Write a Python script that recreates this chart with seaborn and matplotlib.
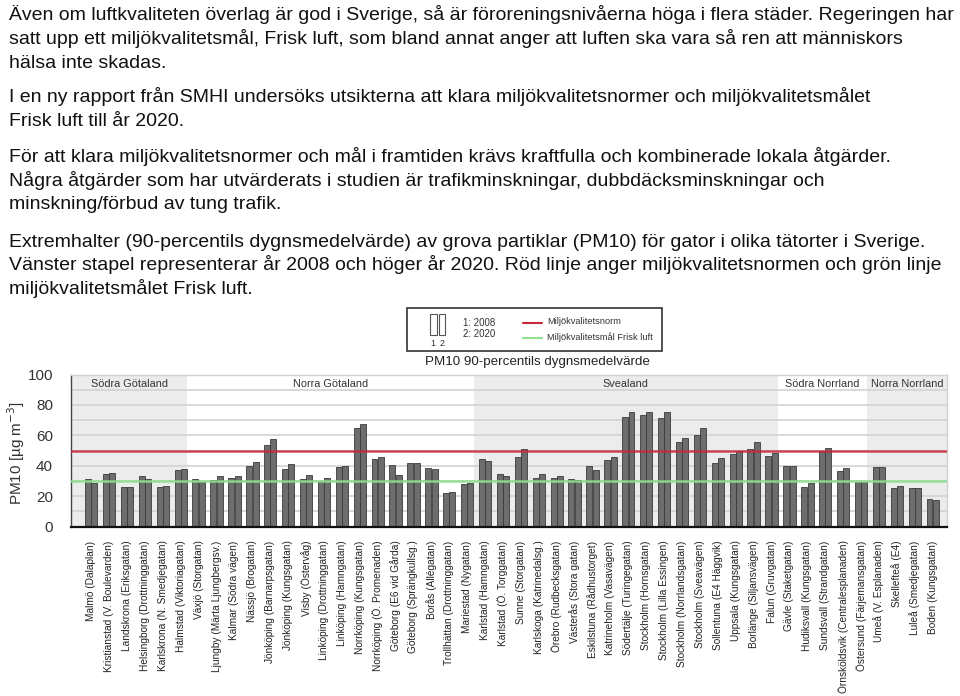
import matplotlib
matplotlib.use("Agg")
import matplotlib.pyplot as plt
from matplotlib.patches import Rectangle
from matplotlib.lines import Line2D
import seaborn as sns
import pandas as pd

# ---------------- data ----------------
cities = [
    "Malmö (Dalaplan)", "Kristianstad (V. Boulevarden)", "Landskrona (Eriksgatan)",
    "Helsingborg (Drottninggatan)", "Karlskrona (N. Smedjegatan)", "Halmstad (Viktoriagatan)",
    "Växjö (Storgatan)", "Ljungby (Märta Ljungbergsv.)", "Kalmar (Södra vägen)",
    "Nässjö (Brogatan)", "Jönköping (Barnarpsgatan)", "Jönköping (Kungsgatan)",
    "Visby (Östervåg)", "Linköping (Drottninggatan)", "Linköping (Hamngatan)",
    "Norrköping (Kungsgatan)", "Norrköping (Ö. Promenaden)", "Göteborg (E6 vid Gårda)",
    "Göteborg (Sprängkullsg.)", "Borås (Allégatan)", "Trollhättan (Drottninggatan)",
    "Mariestad (Nygatan)", "Karlstad (Hamngatan)", "Karlstad (Ö. Torggatan)",
    "Sunne (Storgatan)", "Karlskoga (Katrinedalsg.)", "Örebro (Rudbecksgatan)",
    "Västerås (Stora gatan)", "Eskilstuna (Rådhustorget)", "Katrineholm (Vasavägen)",
    "Södertälje (Turingegatan)", "Stockholm (Hornsgatan)", "Stockholm (Lilla Essingen)",
    "Stockholm (Norrlandsgatan)", "Stockholm (Sveavägen)", "Sollentuna (E4 Häggvik)",
    "Uppsala (Kungsgatan)", "Borlänge (Siljansvägen)", "Falun (Gruvgatan)",
    "Gävle (Staketgatan)", "Hudiksvall (Kungsgatan)", "Sundsvall (Strandgatan)",
    "Örnsköldsvik (Centralesplanaden)", "Östersund (Färjemansgatan)", "Umeå (V. Esplanaden)",
    "Skellefteå (E4)", "Luleå (Smedjegatan)", "Boden (Kungsgatan)",
]
pm10_2008 = [31.1, 34.6, 26.3, 33.5, 26.3, 37.2, 31.5, 30.6, 32.2, 39.8, 53.6, 37.9,
             31.1, 30.2, 39.0, 64.6, 44.2, 40.7, 42.0, 38.5, 21.9, 28.0, 44.2, 34.8,
             45.5, 32.2, 32.2, 31.3, 39.8, 43.5, 72.4, 73.7, 71.3, 55.8, 60.4, 42.0,
             47.5, 51.2, 46.6, 39.6, 26.3, 49.9, 36.8, 29.1, 39.4, 25.2, 25.2, 18.2]
pm10_2020 = [28.4, 35.0, 25.8, 31.1, 26.7, 37.9, 29.5, 33.5, 33.5, 42.5, 57.3, 40.9,
             34.1, 31.7, 39.8, 67.2, 46.0, 34.1, 42.0, 38.1, 22.8, 28.9, 42.9, 33.5,
             51.2, 34.8, 33.3, 30.9, 37.2, 46.0, 75.3, 75.3, 75.3, 58.2, 65.0, 45.1,
             49.9, 55.4, 48.1, 39.6, 28.7, 51.4, 38.3, 29.1, 39.0, 26.5, 25.2, 17.5]
years = ["2008", "2020"]
regions = ["Södra Götaland", "Norra Götaland", "Svealand", "Södra Norrland", "Norra Norrland"]
region_counts = [6, 16, 17, 5, 4]
norm_value = 50      # Miljökvalitetsnorm
goal_value = 30      # Miljökvalitetsmål Frisk luft

intro_lines = [
    "Även om luftkvaliteten överlag är god i Sverige, så är föroreningsnivåerna höga i flera städer. Regeringen har",
    "satt upp ett miljökvalitetsmål, Frisk luft, som bland annat anger att luften ska vara så ren att människors",
    "hälsa inte skadas.",
    "I en ny rapport från SMHI undersöks utsikterna att klara miljökvalitetsnormer och miljökvalitetsmålet",
    "Frisk luft till år 2020.",
    "För att klara miljökvalitetsnormer och mål i framtiden krävs kraftfulla och kombinerade lokala åtgärder.",
    "Några åtgärder som har utvärderats i studien är trafikminskningar, dubbdäcksminskningar och",
    "minskning/förbud av tung trafik.",
    "Extremhalter (90-percentils dygnsmedelvärde) av grova partiklar (PM10) för gator i olika tätorter i Sverige.",
    "Vänster stapel representerar år 2008 och höger år 2020. Röd linje anger miljökvalitetsnormen och grön linje",
    "miljökvalitetsmålet Frisk luft.",
]
intro_baselines = [20, 44, 67.5, 102, 125.5, 162, 185.5, 209, 247, 270.5, 294]

# ---------------- figure ----------------
sns.set_style("white")
plt.rcParams["font.family"] = ["Liberation Sans", "DejaVu Sans"]

W, H = 960, 696
fig = plt.figure(figsize=(W / 100, H / 100), dpi=100)


def fx(px):
    return px / W


def fy(py):
    return 1 - py / H


for line, yb in zip(intro_lines, intro_baselines):
    fig.text(fx(9), fy(yb), line, fontsize=14.0, va="baseline", ha="left", color="#111111")

ax_left, ax_right, ax_top, ax_bottom = 71, 947, 374.5, 526.7
ax = fig.add_axes([fx(ax_left), fy(ax_bottom), fx(ax_right - ax_left), (ax_bottom - ax_top) / H])

df = pd.DataFrame({
    "city": cities * 2,
    "value": pm10_2008 + pm10_2020,
    "year": [years[0]] * len(cities) + [years[1]] * len(cities),
})

sns.barplot(data=df, x="city", y="value", hue="year", order=cities, hue_order=years,
            palette=["#6d6d6d", "#6d6d6d"], width=0.71, gap=0.06,
            edgecolor="#3a3a3a", linewidth=0.6, legend=False, ax=ax, zorder=2)

ax.set_xlim(-1.13, len(cities) - 0.2)
ax.set_ylim(0, 100)

# region shading and labels
start = ax.get_xlim()[0]
idx = 0
for k, (reg, n) in enumerate(zip(regions, region_counts)):
    idx += n
    end = idx - 1 + 0.355 if k < len(regions) - 1 else ax.get_xlim()[1]
    if k % 2 == 0:
        ax.axvspan(start, end, color="#ececec", zorder=0, lw=0)
    ax.text((start + end) / 2, 93.5, reg, ha="center", va="center", fontsize=7.8, color="#333333")
    start = end

# gridlines
for g in range(10, 101, 10):
    ax.axhline(g, color="#d2d2d2", lw=1.2, zorder=0.5)

ax.axhline(norm_value, color="#c8283a", lw=1.8, zorder=3, alpha=0.85)
ax.axhline(goal_value, color="#8fe08f", lw=1.8, zorder=3, alpha=0.9)

ax.set_yticks(range(0, 101, 20))
ax.set_yticks(range(10, 100, 20), minor=True)
ax.tick_params(axis="y", which="major", length=9, width=1, color="#555555",
               labelsize=11, labelcolor="#333333", pad=4)
ax.tick_params(axis="y", which="minor", length=6, width=1, color="#555555")
ax.tick_params(axis="x", length=0, pad=10)
ax.set_xticks(range(len(cities)))
ax.set_xticklabels(cities, rotation=90, ha="center", va="top", fontsize=7.3, color="#222222")
ax.set_xlabel("")
ax.set_ylabel("")

for s in ["top", "right"]:
    ax.spines[s].set_color("#d0d0d0")
    ax.spines[s].set_linewidth(1)
ax.spines["left"].set_color("#444444")
ax.spines["left"].set_linewidth(1)
ax.spines["bottom"].set_color("#111111")
ax.spines["bottom"].set_linewidth(1.6)

# y-axis label
fig.text(fx(16), fy(453), "PM10 [µg m$^{-3}$]", rotation=90, ha="center", va="center",
         fontsize=11, color="#333333")

# title
fig.text(fx(537), fy(362), "PM10 90-percentils dygnsmedelvärde", ha="center", va="center",
         fontsize=9.6, color="#222222")

# legend box (drawn manually)
tr = fig.transFigure
fig.add_artist(Rectangle((fx(407), fy(351)), fx(662 - 407), (351 - 308) / H, transform=tr,
                         facecolor="white", edgecolor="#333333", lw=1.2))
for x0 in (430, 438.5):
    fig.add_artist(Rectangle((fx(x0), fy(335)), fx(6.5), (335 - 313.5) / H, transform=tr,
                             facecolor="white", edgecolor="#555555", lw=0.8))
fig.text(fx(433.3), fy(343.5), "1", ha="center", va="center", fontsize=6.5, color="#333333")
fig.text(fx(441.8), fy(343.5), "2", ha="center", va="center", fontsize=6.5, color="#333333")
fig.text(fx(463), fy(322.5), "1: " + years[0], ha="left", va="center", fontsize=7, color="#333333")
fig.text(fx(463), fy(334), "2: " + years[1], ha="left", va="center", fontsize=7, color="#333333")
fig.add_artist(Line2D([fx(523), fx(542)], [fy(322.7), fy(322.7)], transform=tr, color="#c8283a", lw=1.5))
fig.add_artist(Line2D([fx(523), fx(542)], [fy(337.7), fy(337.7)], transform=tr, color="#8fe08f", lw=1.5))
fig.text(fx(547), fy(322), "Miljökvalitetsnorm", ha="left", va="center", fontsize=6.7, color="#333333")
fig.text(fx(547), fy(337.5), "Miljökvalitetsmål Frisk luft", ha="left", va="center", fontsize=6.7, color="#333333")

fig.savefig("out.png", dpi=100)
